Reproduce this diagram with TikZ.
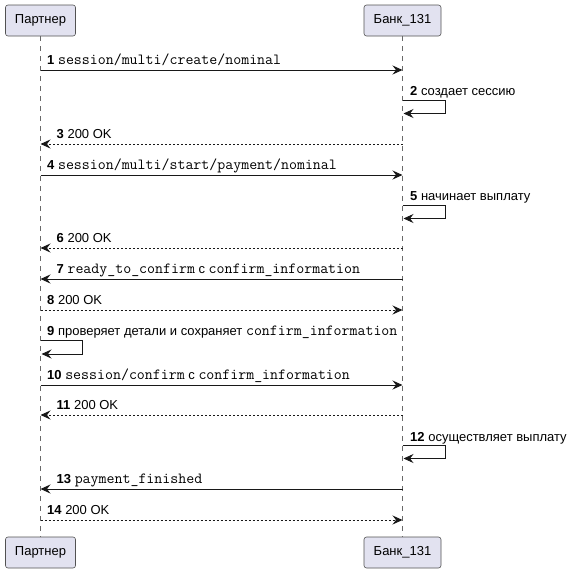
\documentclass[tikz,border=0pt]{standalone}
\usepackage{fontspec}
\setmainfont{Liberation Sans}
\setmonofont{Latin Modern Mono}[Scale=1.19]
\usepackage{xcolor}
\usetikzlibrary{arrows.meta, positioning}
\definecolor{partfill}{HTML}{E2E2F0}
\definecolor{umlline}{HTML}{181818}

\begin{document}
\begin{tikzpicture}[
  x=1pt, y=-1pt,
  part/.style={rectangle, rounded corners=2.5pt, draw=umlline!75, line width=0.6pt,
               fill=partfill, minimum height=31pt, inner sep=0pt,
               font=\fontsize{13}{15}\selectfont},
  life/.style={draw=umlline!65, line width=0.7pt, dash pattern=on 5pt off 5pt},
  msg/.style={-{Stealth[length=10pt, width=9pt, inset=3.5pt]}, draw=umlline, line width=0.9pt},
  reply/.style={msg, dash pattern=on 2pt off 2pt},
  lbl/.style={anchor=base west, inner sep=0pt, font=\fontsize{13}{15}\selectfont}
]
\useasboundingbox (0,0) rectangle (572,573);

% Lifeline x positions
\def\xP{40.5}   % Partner
\def\xB{402.5}  % Bank

% Participants (top and bottom)
\node[part, minimum width=70pt] (partner)  at (\xP,20.5)  {Партнер};
\node[part, minimum width=77pt] (bank)     at (\xB,20.5)  {Банк\_131};
\node[part, minimum width=70pt] (partnerB) at (\xP,552.5) {Партнер};
\node[part, minimum width=77pt] (bankB)    at (\xB,552.5) {Банк\_131};

% Lifelines
\draw[life] (partner) -- (partnerB);
\draw[life] (bank)    -- (bankB);

% Message ends on the lifelines
\foreach \n/\y in {1/70, 3/144, 4/175, 6/248, 7/279, 8/310, 10/385, 11/415, 13/489, 14/520} {
  \coordinate (p\n) at (\xP,\y);
  \coordinate (b\n) at (\xB,\y);
}
% Self calls
\foreach \n/\y in {2/100, 5/205, 12/445} {
  \coordinate (s\n) at (\xB,\y);
  \coordinate (e\n) at (\xB+1,\y+13.5);
}
\coordinate (s9) at (\xP,340.5);
\coordinate (e9) at (\xP+1,354);

% Arrows
\draw[msg]   (p1)  -- (b1);
\draw[msg]   (s2)  -- ++(43,0) |- (e2);
\draw[reply] (b3)  -- (p3);
\draw[msg]   (p4)  -- (b4);
\draw[msg]   (s5)  -- ++(43,0) |- (e5);
\draw[reply] (b6)  -- (p6);
\draw[msg]   (b7)  -- (p7);
\draw[reply] (p8)  -- (b8);
\draw[msg]   (s9)  -- ++(42,0) |- (e9);
\draw[msg]   (p10) -- (b10);
\draw[reply] (b11) -- (p11);
\draw[msg]   (s12) -- ++(43,0) |- (e12);
\draw[msg]   (b13) -- (p13);
\draw[reply] (p14) -- (b14);

% Labels
\node[lbl] (t1)  at (\xP+6.5,64)   {\textbf{1} \texttt{session/multi/create/nominal}};
\node[lbl] (t2)  at (\xB+7.5,95)   {\textbf{2} создает сессию};
\node[lbl] (t3)  at (\xP+16,138)   {\textbf{3} 200 OK};
\node[lbl] (t4)  at (\xP+6.5,169)  {\textbf{4} \texttt{session/multi/start/payment/nominal}};
\node[lbl] (t5)  at (\xB+7.5,200)  {\textbf{5} начинает выплату};
\node[lbl] (t6)  at (\xP+16,242)   {\textbf{6} 200 OK};
\node[lbl] (t7)  at (\xP+16,273)   {\textbf{7} \texttt{ready\_to\_confirm} с \texttt{confirm\_information}};
\node[lbl] (t8)  at (\xP+6.5,304)  {\textbf{8} 200 OK};
\node[lbl] (t9)  at (\xP+6.5,335)  {\textbf{9} проверяет детали и сохраняет \texttt{confirm\_information}};
\node[lbl] (t10) at (\xP+6.5,379)  {\textbf{10} \texttt{session/confirm} с \texttt{confirm\_information}};
\node[lbl] (t11) at (\xP+16,409)   {\textbf{11} 200 OK};
\node[lbl] (t12) at (\xB+7.5,441)  {\textbf{12} осуществляет выплату};
\node[lbl] (t13) at (\xP+16,483)   {\textbf{13} \texttt{payment\_finished}};
\node[lbl] (t14) at (\xP+6.5,514)  {\textbf{14} 200 OK};
\end{tikzpicture}
\end{document}
